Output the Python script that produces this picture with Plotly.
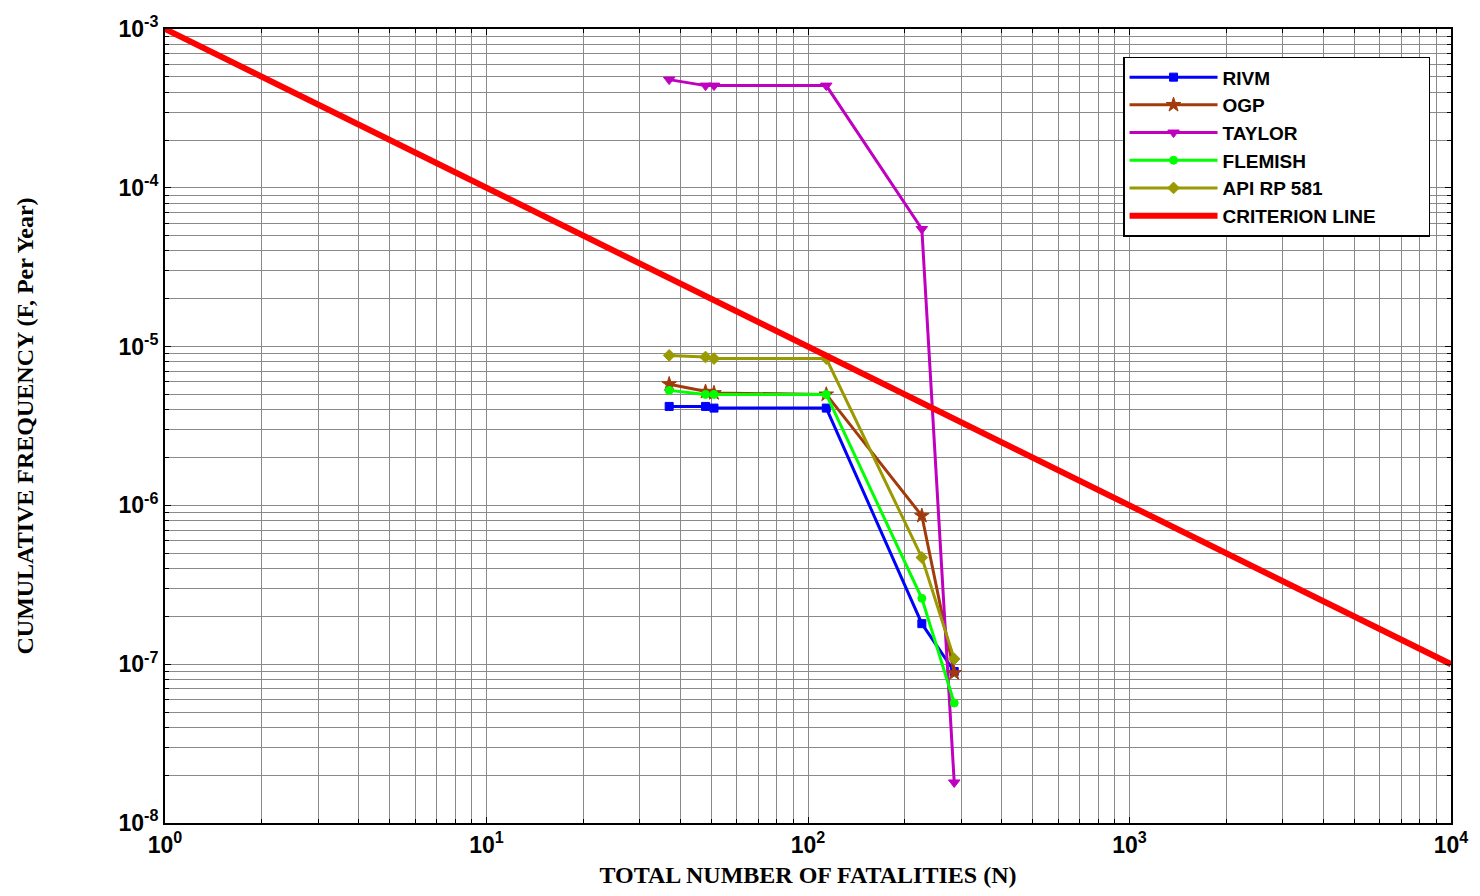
import plotly.graph_objects as go

# ---- data ----
N = [37, 48, 51, 114, 226, 285]
rivm = [4.2e-6, 4.2e-6, 4.1e-6, 4.1e-6, 1.8e-7, 9.0e-8]
ogp = [5.8e-6, 5.2e-6, 5.1e-6, 5.0e-6, 8.6e-7, 8.8e-8]
taylor = [4.8e-4, 4.4e-4, 4.4e-4, 4.4e-4, 5.5e-5, 1.8e-8]
flemish = [5.3e-6, 5.0e-6, 5.0e-6, 5.0e-6, 2.6e-7, 5.7e-8]
api = [8.8e-6, 8.6e-6, 8.4e-6, 8.4e-6, 4.7e-7, 1.08e-7]
crit_N = [1, 10000]
crit_F = [1e-3, 1e-7]

series = [
    ("RIVM", rivm, "#0000ff", "square", 8),
    ("OGP", ogp, "#a33a0c", "star", 11),
    ("TAYLOR", taylor, "#c000c0", "triangle-down", 10),
    ("FLEMISH", flemish, "#00ff00", "circle", 8),
    ("API RP 581", api, "#999900", "diamond", 9),
]

x_major = [1, 10, 100, 1000, 10000]
x_labels = ["<b>10<sup>0</sup></b>", "<b>10<sup>1</sup></b>", "<b>10<sup>2</sup></b>",
            "<b>10<sup>3</sup></b>", "<b>10<sup>4</sup></b>"]
y_major = [1e-8, 1e-7, 1e-6, 1e-5, 1e-4, 1e-3]
y_labels = ["<b>10<sup>-8</sup></b>", "<b>10<sup>-7</sup></b>", "<b>10<sup>-6</sup></b>",
            "<b>10<sup>-5</sup></b>", "<b>10<sup>-4</sup></b>", "<b>10<sup>-3</sup></b>"]

x_minor = [m * 10 ** e for e in range(0, 4) for m in range(2, 10)]
y_minor = [m * 10.0 ** e for e in range(-8, -3) for m in range(2, 10)]

fig = go.Figure()
for name, vals, col, sym, sz in series:
    fig.add_trace(go.Scatter(
        x=N, y=vals, name=name, mode="lines+markers",
        line=dict(color=col, width=3),
        marker=dict(symbol=sym, size=sz, color=col, line=dict(color=col, width=1)),
    ))
fig.add_trace(go.Scatter(
    x=crit_N, y=crit_F, name="CRITERION LINE" + "\u00a0" * 9, mode="lines",
    line=dict(color="#ff0000", width=6),
))

grid_col = "#8a8a8a"
axis_common = dict(
    type="log", showline=True, linecolor="black", linewidth=2, mirror="allticks",
    ticks="inside", ticklen=6, tickcolor="black", tickwidth=1,
    showgrid=True, gridcolor=grid_col, gridwidth=1, zeroline=False,
    tickfont=dict(family="Liberation Sans, Arial", size=23, color="black"),
)

fig.update_xaxes(
    **axis_common,
    range=[0, 4], tickmode="array", tickvals=x_major, ticktext=x_labels,
    minor=dict(tickmode="array", tickvals=x_minor, showgrid=True, gridcolor=grid_col,
               gridwidth=1, ticks="inside", ticklen=4, tickcolor="black"),
    title=dict(text="<b>TOTAL NUMBER OF FATALITIES (N)</b>",
               font=dict(family="Liberation Serif, Times New Roman", size=24, color="black"),
               standoff=10),
)
fig.update_yaxes(
    **axis_common,
    range=[-8, -3], tickmode="array", tickvals=y_major, ticktext=y_labels,
    minor=dict(tickmode="array", tickvals=y_minor, showgrid=True, gridcolor=grid_col,
               gridwidth=1, ticks="inside", ticklen=4, tickcolor="black"),
    title=dict(text="<b>CUMULATIVE FREQUENCY (F, Per Year)</b>",
               font=dict(family="Liberation Serif, Times New Roman", size=24, color="black"),
               standoff=78),
)

fig.update_layout(
    width=1480, height=896,
    margin=dict(l=165, r=24, t=27, b=70),
    paper_bgcolor="white", plot_bgcolor="white",
    legend=dict(
        x=0.9837, y=0.965, xanchor="right", yanchor="top",
        bgcolor="white", bordercolor="black", borderwidth=1.5,
        font=dict(family="Liberation Sans, Arial", size=19, color="black", weight="bold"),
        itemwidth=88, tracegroupgap=0,
    ),
    showlegend=True,
)

fig.write_html("out.html")
